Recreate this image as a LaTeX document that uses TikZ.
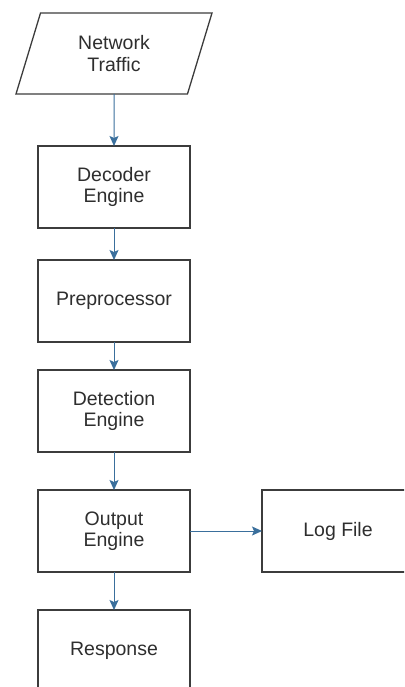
\documentclass[tikz,border=0pt]{standalone}
\usepackage{fontspec}
\setmainfont{Liberation Sans}
\usetikzlibrary{shapes.geometric,positioning,arrows.meta}
\definecolor{flowblue}{HTML}{3A6F9C}
\definecolor{boxline}{HTML}{3C3C3C}
\definecolor{boxtext}{HTML}{2E2E2E}

\begin{document}
\begin{tikzpicture}[x=1pt,y=1pt]
\tikzstyle{block}=[
	rectangle,
	draw=boxline,
	line width=1.3pt,
	outer sep=0pt,
	minimum width=152pt,
	minimum height=82pt,
	align=center,
	text=boxtext,
	font=\fontsize{19.5}{21.5}\selectfont ]
\tikzstyle{datain}=[block,
	trapezium,
	trapezium left angle=60,
	trapezium right angle=120,
	trapezium stretches body,
	minimum width=196pt,
	minimum height=81pt,
	inner xsep=0pt ]
\tikzstyle{flow}=[draw=flowblue, line width=1pt, -{Stealth[length=10pt,width=9pt,inset=2pt]}]
\useasboundingbox (0,0) rectangle (404,687);
\clip (0,0) rectangle (404,687);
\node[datain] (traffic) at (114,633.5) {Network\\Traffic};
\node[block, below=52pt of traffic] (decoder) {Decoder\\Engine};
\node[block, below=32pt of decoder] (preproc) {Preprocessor};
\node[block, below=28pt of preproc] (detect) {Detection\\Engine};
\node[block, below=38pt of detect] (output) {Output\\Engine};
\node[block, below=38pt of output] (response) {Response};
\node[block, right=72pt of output] (logfile) {Log File};
% connectors
\draw[flow] (traffic) -- (decoder);
\draw[flow] (decoder) -- (preproc);
\draw[flow] (preproc) -- (detect);
\draw[flow] (detect) -- (output);
\draw[flow] (output) -- (response);
\draw[flow] (output) -- (logfile);
\end{tikzpicture}
\end{document}
